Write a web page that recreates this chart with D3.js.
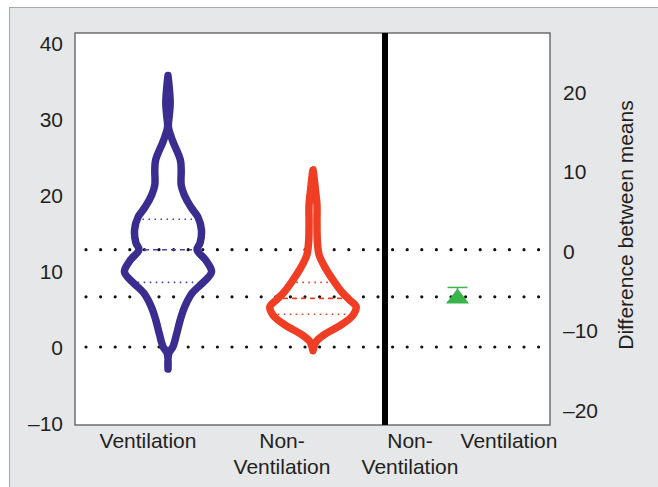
<!DOCTYPE html>
<html>
<head>
<meta charset="utf-8">
<script src="https://cdn.jsdelivr.net/npm/d3@7"></script>
<style>
  body { margin: 0; background: #fff; }
  svg text { font-family: "Liberation Sans", Arial, sans-serif; fill: #231f20; }
</style>
</head>
<body>
<svg></svg>
<script>
// categories
const groups = ['Ventilation', 'Non-Ventilation']
const diffGroups = ['Non-Ventilation', 'Ventilation']

// tick labels
const leftTicks = [-10, 0, 10, 20, 30, 40]
const rightTicks = [-20, -10, 0, 10, 20]

// violin outlines: value and relative density
const ventValues  = [-2.9, -0.8, 0, 1.8, 3.6, 5.3, 7.1, 8.6, 9.9, 11.4, 12.8, 13.7, 15.4, 17.1, 18.4, 20.0, 21.3, 23.3, 24.6, 27.2, 28.9, 30.5, 32.1, 34.0, 35.7]
const ventDensity = [0, 0.02, 0.11, 0.2, 0.28, 0.38, 0.55, 0.82, 0.99, 0.86, 0.66, 0.73, 0.76, 0.68, 0.52, 0.37, 0.3, 0.3, 0.28, 0.1, 0.01, 0.03, 0.05, 0.03, 0]

const nonVentValues  = [-0.5, 0.7, 1.6, 2.9, 4.2, 5.3, 6.2, 7.2, 8.6, 10.4, 12.1, 13.8, 16.4, 18.7, 20.9, 22.5, 23.3]
const nonVentDensity = [0, 0.07, 0.25, 0.64, 0.91, 0.98, 0.83, 0.66, 0.48, 0.28, 0.14, 0.1, 0.09, 0.09, 0.05, 0.02, 0]

// quartiles [q1, median, q3]
const ventQuartiles = [8.5, 12.8, 16.8]
const nonVentQuartiles = [4.3, 6.4, 8.5]

// group means (left axis) and difference (right axis)
const means = [12.8, 6.6]
const meanDiff = -6.0
const diffCI = [-6.4, -4.6]

const colors = ['#3b2d8f', '#ef3e23']
const lineColors = ['#4b3fb3', '#ef3e23']
const green = '#39b54a'

const w = 658
const h = 487
const plot = {left: 75, right: 550, top: 33, bottom: 425}
const divider = 385
const fontSize = '21px'

let svg = d3.select('svg').attr('width', w).attr('height', h)

// gray panel + plot frame
svg.append('rect')
   .attr('x', 9.5).attr('y', 7.5)
   .attr('width', w).attr('height', h)
   .attr('fill', '#e6e7e8')
   .attr('stroke', '#a7a9ac')

svg.append('rect')
   .attr('x', plot.left).attr('y', plot.top)
   .attr('width', plot.right - plot.left)
   .attr('height', plot.bottom - plot.top)
   .attr('fill', '#fff')
   .attr('stroke', '#58595b')
   .attr('stroke-width', 1.3)

// scales
let yLeft = d3.scaleLinear().domain([-10.26, 41.3]).range([plot.bottom, plot.top])
let yRight = d3.scaleLinear().domain([-21.9, 27.4]).range([plot.bottom, plot.top])
let xGroup = d3.scalePoint().domain(groups).range([168, 313])
let xLabel = d3.scalePoint().domain(groups).range([148, 282])
let xDiffLabel = d3.scalePoint().domain(diffGroups).range([410, 509])
let xDiff = 457.5
let widthScale = d3.scaleLinear().domain([0, 1]).range([0, 44])

// dotted reference lines at 0 and the two means
svg.append('g')
   .selectAll('line')
   .data([0, ...means])
   .enter()
   .append('line')
   .attr('x1', 86)
   .attr('x2', plot.right)
   .attr('y1', (d) => yLeft(d))
   .attr('y2', (d) => yLeft(d))
   .attr('stroke', '#111')
   .attr('stroke-width', 3.2)
   .attr('stroke-linecap', 'round')
   .attr('stroke-dasharray', '0 14.6')

// violins
let violins = [
  {values: ventValues, density: ventDensity, q: ventQuartiles},
  {values: nonVentValues, density: nonVentDensity, q: nonVentQuartiles}
]

violins.forEach((v, i) => {
  let cx = xGroup(groups[i])
  let pts = v.values.map((val, k) => ({v: val, d: v.density[k]}))
  let halfWidth = d3.scaleLinear().domain(v.values).range(v.density)

  // quartile and median lines
  v.q.forEach((qv, k) => {
    let hw = Math.max(widthScale(halfWidth(qv)) - 5, 4)
    svg.append('line')
       .attr('x1', cx - hw).attr('x2', cx + hw)
       .attr('y1', yLeft(qv)).attr('y2', yLeft(qv))
       .attr('stroke', lineColors[i])
       .attr('stroke-width', 1.6)
       .attr('stroke-dasharray', k === 1 ? '5 4' : '1.6 4.4')
  })

  let area = d3.area()
               .y((d) => yLeft(d.v))
               .x0((d) => cx - widthScale(d.d))
               .x1((d) => cx + widthScale(d.d))
               .curve(d3.curveCatmullRom)

  svg.append('path')
     .attr('d', area(pts))
     .attr('fill', 'none')
     .attr('stroke', colors[i])
     .attr('stroke-width', 7.5)
     .attr('stroke-linejoin', 'round')
})

// divider
svg.append('line')
   .attr('x1', divider).attr('x2', divider)
   .attr('y1', plot.top).attr('y2', plot.bottom)
   .attr('stroke', '#000')
   .attr('stroke-width', 6)

// difference of means: error bar + triangle
let ciG = svg.append('g').attr('stroke', green).attr('stroke-width', 1.5)
ciG.append('line')
   .attr('x1', xDiff).attr('x2', xDiff)
   .attr('y1', yRight(diffCI[0])).attr('y2', yRight(diffCI[1]))
ciG.selectAll('.cap')
   .data(diffCI)
   .enter()
   .append('line')
   .attr('x1', xDiff - 10).attr('x2', xDiff + 10)
   .attr('y1', (d) => yRight(d)).attr('y2', (d) => yRight(d))

let ty = yRight(meanDiff)
svg.append('path')
   .attr('d', `M${xDiff},${ty - 10}L${xDiff + 11.5},${ty + 5}L${xDiff - 11.5},${ty + 5}Z`)
   .attr('fill', green)

// axes
let fmt = (d) => d < 0 ? '\u2013' + Math.abs(d) : String(d)

let yAxisL = svg.append('g')
   .attr('transform', 'translate(' + plot.left + ',0)')
   .call(d3.axisLeft(yLeft).tickValues(leftTicks).tickSize(0).tickPadding(12).tickFormat(fmt))
let yAxisR = svg.append('g')
   .attr('transform', 'translate(' + plot.right + ',0)')
   .call(d3.axisRight(yRight).tickValues(rightTicks).tickSize(0).tickPadding(13).tickFormat(fmt))

;[yAxisL, yAxisR].forEach((g) => {
  g.select('.domain').remove()
  g.attr('font-family', null).attr('font-size', null)
  g.selectAll('text').style('font-size', fontSize).attr('fill', '#231f20').attr('dy', '0.36em')
})

svg.append('text')
   .attr('transform', 'translate(633,225) rotate(-90)')
   .attr('text-anchor', 'middle')
   .style('font-size', fontSize)
   .text('Difference between means')

// category labels
let drawLabel = (x, name) => {
  let t = svg.append('text')
             .attr('text-anchor', 'middle')
             .style('font-size', fontSize)
  let parts = name.includes('-') ? [name.split('-')[0] + '-', name.split('-')[1]] : [name]
  parts.forEach((p, k) => {
    t.append('tspan').attr('x', x).attr('y', 448 + k * 25.5).text(p)
  })
}
groups.forEach((g) => drawLabel(xLabel(g), g))
diffGroups.forEach((g) => drawLabel(xDiffLabel(g), g))
</script>
</body>
</html>
